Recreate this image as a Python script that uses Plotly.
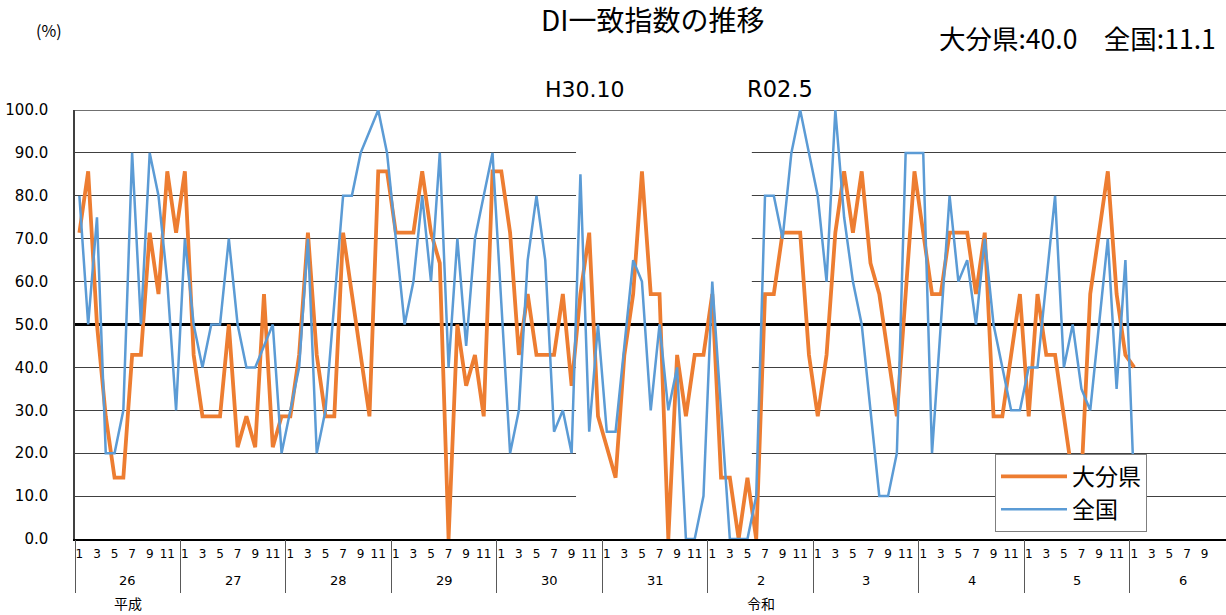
import plotly.graph_objects as go

# ---------------- data ----------------
year_labels = ["26", "27", "28", "29", "30", "31", "2", "3", "4", "5", "6"]
month_tick_labels = ["1", "3", "5", "7", "9", "11"]
era_labels = ["平成", "令和"]
era_year_index = [0, 6]          # index into year_labels where each era label sits
y_ticks = [0, 10, 20, 30, 40, 50, 60, 70, 80, 90, 100]
reference_level = 50
recession_peak = (4, 10)          # (year index, month)  H30.10
recession_trough = (6, 5)         # (year index, month)  R02.5
recession_labels = ["H30.10", "R02.5"]

oita = [
    71.4, 85.7, 50.0, 28.6, 14.3, 14.3, 42.9, 42.9, 71.4, 57.1, 85.7, 71.4,   # H26
    85.7, 42.9, 28.6, 28.6, 28.6, 50.0, 21.4, 28.6, 21.4, 57.1, 21.4, 28.6,   # H27
    28.6, 42.9, 71.4, 42.9, 28.6, 28.6, 71.4, 57.1, 42.9, 28.6, 85.7, 85.7,   # H28
    71.4, 71.4, 71.4, 85.7, 71.4, 64.3, 0.0, 50.0, 35.7, 42.9, 28.6, 85.7,    # H29
    85.7, 71.4, 42.9, 57.1, 42.9, 42.9, 42.9, 57.1, 35.7, 57.1, 71.4, 28.6,   # H30
    21.4, 14.3, 42.9, 57.1, 85.7, 57.1, 57.1, 0.0, 42.9, 28.6, 42.9, 42.9,    # H31
    57.1, 14.3, 14.3, 0.0, 14.3, 0.0, 57.1, 57.1, 71.4, 71.4, 71.4, 42.9,     # R2
    28.6, 42.9, 71.4, 85.7, 71.4, 85.7, 64.3, 57.1, 42.9, 28.6, 57.1, 85.7,   # R3
    71.4, 57.1, 57.1, 71.4, 71.4, 71.4, 57.1, 71.4, 28.6, 28.6, 42.9, 57.1,   # R4
    28.6, 57.1, 42.9, 42.9, 28.6, 14.3, 14.3, 57.1, 71.4, 85.7, 57.1, 42.9,   # R5
    40.0,                                                                     # R6
]
zenkoku = [
    80, 50, 75, 20, 20, 30, 90, 50, 90, 80, 60, 30,     # H26
    70, 50, 40, 50, 50, 70, 50, 40, 40, 45, 50, 20,     # H27
    30, 40, 70, 20, 30, 55, 80, 80, 90, 95, 100, 90,    # H28
    70, 50, 60, 80, 60, 90, 40, 70, 45, 70, 80, 90,     # H29
    55, 20, 30, 65, 80, 65, 25, 30, 20, 85, 25, 50,     # H30
    25, 25, 45, 65, 60, 30, 50, 30, 40, 0, 0, 10,       # H31
    60, 30, 0, 0, 0, 10, 80, 80, 70, 90, 100, 90,       # R2
    80, 60, 100, 75, 60, 50, 30, 10, 10, 20, 90, 90,    # R3
    90, 20, 50, 80, 60, 65, 50, 70, 50, 40, 30, 30,     # R4
    40, 40, 60, 80, 40, 50, 35, 30, 50, 70, 35, 65,     # R5
    11.1,                                               # R6
]

# ---------------- layout helpers ----------------
W, H = 1226, 615
L, T = 75, 110
B_PX = 539
PLOT_W = W - L
PLOT_H = B_PX - T
MONTH_PX = 8.79
CJK = "Noto Sans CJK JP"
LATIN = "DejaVu Sans, Noto Sans CJK JP"


def px_x(p):
    return (p - L) / PLOT_W


def px_y(p):
    return (B_PX - p) / PLOT_H


n_months = len(year_labels) * 12
x_idx = list(range(len(oita)))
x_range = [-0.5, -0.5 + PLOT_W / MONTH_PX]

month_tickvals, month_ticktext = [], []
for yi in range(len(year_labels)):
    for lab in month_tick_labels:
        month_tickvals.append(yi * 12 + int(lab) - 1)
        month_ticktext.append(lab)
year_bounds = [yi * 12 - 0.5 for yi in range(len(year_labels) + 1)]

fig = go.Figure()
fig.add_trace(go.Scatter(x=x_idx, y=oita, mode="lines", name="大分県",
                         line=dict(color="#ED7D31", width=3.8)))
fig.add_trace(go.Scatter(x=x_idx, y=zenkoku, mode="lines", name="全国",
                         line=dict(color="#5B9BD5", width=2.5)))
fig.add_trace(go.Scatter(x=[None], y=[None], xaxis="x2", showlegend=False,
                         hoverinfo="skip"))

peak_i = recession_peak[0] * 12 + recession_peak[1] - 1
trough_i = recession_trough[0] * 12 + recession_trough[1] - 1

shapes = [
    # gap in the gridlines over the recession period
    dict(type="rect", xref="x", yref="y", x0=peak_i - 0.5, x1=trough_i + 0.5,
         y0=5, y1=95, fillcolor="white", line=dict(width=0), layer="between"),
    # 50 reference line
    dict(type="line", xref="x", yref="y", x0=-0.5, x1=n_months - 0.5,
         y0=reference_level, y1=reference_level,
         line=dict(color="black", width=3), layer="between"),
    # top border
    dict(type="line", xref="paper", yref="y", x0=0, x1=1, y0=100, y1=100,
         line=dict(color="#404040", width=1.5), layer="between"),
]

annotations = [
    dict(text="(%)", x=px_x(49), y=px_y(30), font=dict(size=16, family=CJK)),
    dict(text="DI一致指数の推移", x=px_x(652), y=px_y(19),
         font=dict(size=28, family=CJK)),
    dict(text=f"大分県:{oita[-1]:.1f}　全国:{zenkoku[-1]:.1f}", x=px_x(937),
         y=px_y(38), xanchor="left", font=dict(size=26.5, family=CJK)),
]
for a in annotations:
    a.update(xref="paper", yref="paper", showarrow=False)
    a.setdefault("xanchor", "center")
    a["yanchor"] = "middle"

annotations.append(dict(text=recession_labels[0], x=peak_i + 0.5, y=px_y(89),
                        xref="x", yref="paper", showarrow=False,
                        xanchor="center", yanchor="middle",
                        font=dict(size=22, family=LATIN)))
annotations.append(dict(text=recession_labels[1], x=trough_i - 0.3, y=px_y(89),
                        xref="x", yref="paper", showarrow=False,
                        xanchor="left", yanchor="middle",
                        font=dict(size=22.5, family=LATIN)))

for yi, lab in enumerate(year_labels):
    annotations.append(dict(text=lab, x=yi * 12 + 5.5, y=px_y(580), xref="x",
                            yref="paper", showarrow=False, xanchor="center",
                            yanchor="middle", font=dict(size=13, family=LATIN)))
for era, yi in zip(era_labels, era_year_index):
    annotations.append(dict(text=era, x=yi * 12 + 5.5, y=px_y(603), xref="x",
                            yref="paper", showarrow=False, xanchor="center",
                            yanchor="middle", font=dict(size=14, family=CJK)))

fig.update_layout(
    width=W, height=H,
    margin=dict(l=L, r=0, t=T, b=H - B_PX, pad=0),
    paper_bgcolor="white", plot_bgcolor="white",
    font=dict(family=CJK, color="black"),
    showlegend=True,
    legend=dict(x=px_x(995), y=px_y(532), xanchor="left", yanchor="bottom",
                bgcolor="white", bordercolor="#7f7f7f", borderwidth=1,
                font=dict(size=23, family=CJK), itemwidth=66),
    xaxis=dict(range=x_range, tickvals=month_tickvals, ticktext=month_ticktext,
               showgrid=False, zeroline=False, showline=True, linecolor="black",
               linewidth=1.5, ticks="", tickfont=dict(size=12, family=LATIN),
               ticklabelstandoff=3, tickangle=0),
    xaxis2=dict(range=x_range, overlaying="x", anchor="y", side="bottom",
                tickvals=year_bounds, ticks="outside", ticklen=53, tickwidth=1,
                tickcolor="#595959", showticklabels=False, showgrid=False,
                zeroline=False, showline=False),
    yaxis=dict(range=[0, 100], tickvals=y_ticks,
               ticktext=[f"{v:.1f}" for v in y_ticks], showgrid=True,
               gridcolor="#404040", gridwidth=1, zeroline=False, showline=True,
               linecolor="#404040", linewidth=1.5, ticks="",
               ticklabelstandoff=22, tickfont=dict(size=15, family=LATIN)),
    shapes=shapes,
    annotations=annotations,
    hovermode=False,
)

fig.write_html("out.html", config={"displayModeBar": False},
               post_script="document.body.style.margin='0px';")
